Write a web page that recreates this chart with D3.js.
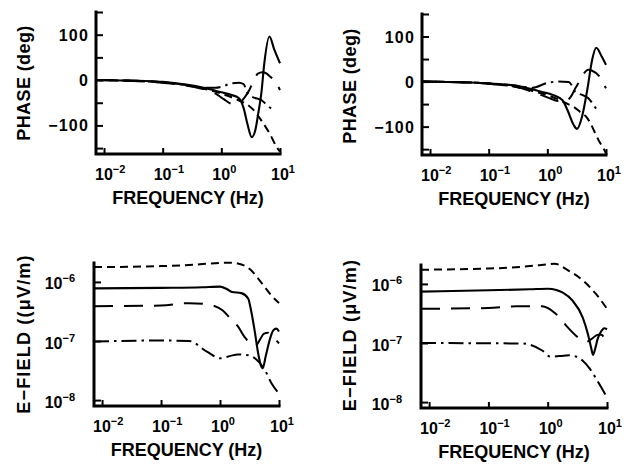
<!DOCTYPE html>
<html>
<head>
<meta charset="utf-8">
<script src="https://cdn.jsdelivr.net/npm/d3@7"></script>
<style>
  body { margin: 0; background: #fff; }
  svg { display: block; }
  text { font-family: "Liberation Sans", Arial, Helvetica, sans-serif; font-weight: bold; fill: #000; }
</style>
</head>
<body>
<svg id="fig" width="635" height="465"></svg>
<script>
// ---- Phase (deg) vs frequency (Hz), left model ----
const phaseLeftSolid = [[0.0073,0],[0.02,-1],[0.05,-2],[0.1,-4],[0.25,-10],[0.5,-17],[1,-27],[1.5,-33],[2,-40],[2.4,-62],[2.8,-98],[3.3,-126],[3.8,-110],[4.3,-70],[4.8,-30],[5.4,37],[6.6,96],[8,67],[10,37]];
const phaseLeftShort = [[0.0073,0],[0.02,-1],[0.05,-3],[0.1,-5],[0.25,-11],[0.5,-19],[1,-30],[1.5,-38],[2,-45],[2.7,-53],[3.6,-67],[4.8,-89],[6.6,-117],[9,-150],[10,-158]];
const phaseLeftLong = [[0.0073,0],[0.02,-1],[0.05,-3],[0.1,-6],[0.25,-12],[0.5,-20],[0.8,-30],[1.1,-42],[1.5,-52],[2,-50],[2.5,-38],[3,-22],[3.5,-3],[4.2,14],[5,17],[5.8,15],[7,6],[8,0],[10,-22]];
const phaseLeftDashDot = [[0.0073,0],[0.02,-1],[0.05,-2],[0.1,-5],[0.25,-11],[0.5,-17],[0.8,-17],[1.1,-13],[1.5,-7],[2,-6],[2.4,-9],[2.8,-30],[3.5,-38],[4.8,-44],[6.6,-60],[7.5,-64]];

// ---- Phase (deg) vs frequency (Hz), right model ----
const phaseRightSolid = [[0.0073,0],[0.02,-1],[0.05,-2],[0.1,-4],[0.35,-11],[0.76,-22],[1.27,-30],[1.8,-41],[2.2,-63],[2.8,-96],[3.2,-105],[3.9,-78],[4.8,-18],[5.8,48],[6.8,75],[8.5,55],[10,37]];
const phaseRightShort = [[0.0073,0],[0.05,-2],[0.1,-5],[0.3,-12],[0.6,-22],[1,-30],[1.5,-39],[2,-47],[2.8,-56],[3.6,-67],[4.8,-81],[5.8,-100],[6.5,-114],[7.9,-136],[9,-147],[10,-160]];
const phaseRightLong = [[0.0073,0],[0.05,-2],[0.1,-5],[0.3,-12],[0.6,-24],[1,-35],[1.5,-43],[2,-44],[2.5,-34],[3,-15],[3.5,0],[4.2,18],[5,26],[5.8,24],[7.9,10],[9.7,-12],[10,-15]];
const phaseRightDashDot = [[0.0073,0],[0.05,-2],[0.1,-4],[0.3,-9],[0.55,-14],[1,-3],[1.5,0],[2.3,-1],[2.6,-8],[3,-23],[4,-30],[5,-37],[6,-50],[7,-63]];

// ---- E-field amplitude (µV/m) vs frequency (Hz), left model ----
const efieldLeftShort = [[0.0073,1.78e-6],[0.1,1.85e-6],[0.5,2.0e-6],[1,2.1e-6],[1.5,2.12e-6],[2,2.05e-6],[3.3,1.6e-6],[4.4,1.15e-6],[5.8,8.1e-7],[7.4,5.9e-7],[10,4.4e-7]];
const efieldLeftSolid = [[0.0073,7.76e-7],[0.1,7.94e-7],[0.5,8.13e-7],[1,8.32e-7],[1.3,7.59e-7],[1.6,6.76e-7],[2.3,6.46e-7],[3.0,5.25e-7],[3.4,3.09e-7],[3.9,1.41e-7],[4.4,6.46e-8],[4.9,3.89e-8],[5.3,3.47e-8],[6.0,5.75e-8],[7.1,1.12e-7],[8,1.51e-7],[9,1.62e-7],[10,1.45e-7]];
const efieldLeftLong = [[0.0073,3.89e-7],[0.1,3.98e-7],[0.3,4.37e-7],[0.6,4.17e-7],[1.1,3.31e-7],[1.5,2.4e-7],[2,1.78e-7],[2.6,1.17e-7],[3.4,8.9e-8],[4,8.3e-8],[4.8,1.07e-7],[5.5,1.32e-7],[6.5,1.38e-7],[8,1.17e-7],[10,9.1e-8]];
const efieldLeftDashDot = [[0.0073,9.8e-8],[0.1,1.02e-7],[0.3,1.0e-7],[0.6,6.6e-8],[1,5.1e-8],[1.5,5.6e-8],[2,5.9e-8],[3,5.75e-8],[4,5.0e-8],[5.8,3.2e-8],[7.5,1.9e-8],[10,1.29e-8]];

// ---- E-field amplitude (µV/m) vs frequency (Hz), right model ----
const efieldRightShort = [[0.0073,1.74e-6],[0.1,1.82e-6],[0.5,2.0e-6],[1,2.15e-6],[1.3,2.2e-6],[2.2,1.7e-6],[3.9,1.15e-6],[6.4,6.9e-7],[10,3.8e-7]];
const efieldRightSolid = [[0.0073,7.4e-7],[0.1,7.8e-7],[0.5,8.1e-7],[1,8.3e-7],[1.4,7.9e-7],[1.8,7.1e-7],[2.6,5.25e-7],[3.9,2.7e-7],[4.8,1.38e-7],[5.4,8.3e-8],[5.8,6.3e-8],[6.3,7.9e-8],[7,1.2e-7],[8,1.58e-7],[9,1.78e-7],[10,1.7e-7]];
const efieldRightLong = [[0.0073,3.8e-7],[0.1,3.9e-7],[0.3,4.17e-7],[0.8,4.17e-7],[1.35,3.16e-7],[2.2,1.82e-7],[3.3,1.23e-7],[4.5,1.05e-7],[5.5,1.17e-7],[7,1.38e-7],[8,1.38e-7],[10,9.1e-8]];
const efieldRightDashDot = [[0.0073,1.0e-7],[0.37,9.8e-8],[0.82,7.4e-8],[1.1,5.9e-8],[1.6,6.0e-8],[2.3,6.2e-8],[3,5.9e-8],[3.9,5.0e-8],[5,3.8e-8],[6.4,2.6e-8],[8,1.78e-8],[10,1.2e-8]];

// ---- Axis ticks and labels ----
const freqDecades = [-2, -1, 0, 1];
const phaseTicks = [-150, -100, -50, 0, 50, 100, 150];
const phaseLabels = [100, 0, -100];
const efieldDecades = [-8, -7, -6];
const freqTitle = "FREQUENCY (Hz)";
const phaseTitle = "PHASE (deg)";
const efieldTitleLeft = "E\u2212FIELD ((\u03BCV/m)";
const efieldTitleRight = "E\u2212FIELD (\u03BCV/m)";

// line styles for the four model curves
const styles = {
  solid:   { dash: null,          width: 2.1 },
  short:   { dash: "8,5",         width: 2.0 },
  long:    { dash: "19,11",       width: 2.0 },
  dashdot: { dash: "15,5,2.5,5",  width: 2.0 }
};

const panels = [
  { kind: "phase", x0: 96,  x1: 280, y0: 12,  y1: 154, title: phaseTitle, titleX: 30, titleY: 83,
    series: [["short", phaseLeftShort], ["long", phaseLeftLong], ["dashdot", phaseLeftDashDot], ["solid", phaseLeftSolid]] },
  { kind: "phase", x0: 422, x1: 606, y0: 14,  y1: 155, title: phaseTitle, titleX: 356, titleY: 86,
    series: [["short", phaseRightShort], ["long", phaseRightLong], ["dashdot", phaseRightDashDot], ["solid", phaseRightSolid]] },
  { kind: "efield", x0: 94, x1: 279, y0: 263, y1: 406, title: efieldTitleLeft, titleX: 30, titleY: 334,
    series: [["short", efieldLeftShort], ["long", efieldLeftLong], ["dashdot", efieldLeftDashDot], ["solid", efieldLeftSolid]] },
  { kind: "efield", x0: 421, x1: 607, y0: 265, y1: 408, title: efieldTitleRight, titleX: 356, titleY: 335,
    series: [["short", efieldRightShort], ["long", efieldRightLong], ["dashdot", efieldRightDashDot], ["solid", efieldRightSolid]] }
];

const svg = d3.select("#fig");

panels.forEach(p => {
  const g = svg.append("g");
  const x = d3.scaleLog().domain([0.0073, 10]).range([p.x0, p.x1]);
  const y = p.kind === "phase"
    ? d3.scaleLinear().domain([-163, 150]).range([p.y1, p.y0])
    : d3.scaleLog().domain([Math.pow(10, -8.1), Math.pow(10, -5.68)]).range([p.y1, p.y0]);

  // curves
  const line = d3.line()
    .x(d => x(d[0]))
    .y(d => y(d[1]))
    .curve(d3.curveMonotoneX);

  p.series.forEach(([style, data]) => {
    const s = styles[style];
    g.append("path")
      .datum(data)
      .attr("d", line)
      .attr("fill", "none")
      .attr("stroke", "#000")
      .attr("stroke-width", s.width)
      .attr("stroke-dasharray", s.dash)
      .attr("stroke-linejoin", "round");
  });

  // inward ticks
  const xAxis = d3.axisBottom(x)
    .tickValues(freqDecades.map(e => Math.pow(10, e)))
    .tickSize(-6).tickFormat("");
  const gx = g.append("g").attr("transform", `translate(0,${p.y1})`).call(xAxis);
  gx.select(".domain").remove();
  gx.selectAll(".tick line").attr("stroke", "#000").attr("stroke-width", 2);

  const yTickValues = p.kind === "phase" ? phaseTicks : efieldDecades.map(e => Math.pow(10, e));
  const yAxis = d3.axisLeft(y).tickValues(yTickValues).tickSize(-7).tickFormat("");
  const gy = g.append("g").attr("transform", `translate(${p.x0},0)`).call(yAxis);
  gy.select(".domain").remove();
  gy.selectAll(".tick line").attr("stroke", "#000").attr("stroke-width", 2);

  // heavy axis frame (left and bottom)
  g.append("path")
    .attr("d", `M${p.x0},${p.y0}V${p.y1}H${p.x1}`)
    .attr("fill", "none")
    .attr("stroke", "#000")
    .attr("stroke-width", 3)
    .attr("stroke-linecap", "square");

  // frequency tick labels: "10" centred on the tick with a raised exponent
  freqDecades.forEach(e => {
    const t = g.append("text")
      .attr("x", x(Math.pow(10, e)) - 9)
      .attr("y", p.y1 + 26)
      .attr("font-size", 16);
    t.append("tspan").text("10");
    t.append("tspan").attr("dy", -7).attr("font-size", 11).text(e < 0 ? "\u2212" + (-e) : String(e));
  });

  // y tick labels
  if (p.kind === "phase") {
    phaseLabels.forEach(v => {
      g.append("text")
        .attr("x", p.x0 - 7)
        .attr("y", y(v) + 6)
        .attr("text-anchor", "end")
        .attr("font-size", 16)
        .attr("letter-spacing", 1.2)
        .text(v < 0 ? "\u2212" + (-v) : String(v));
    });
  } else {
    efieldDecades.forEach(e => {
      const t = g.append("text")
        .attr("x", p.x0 - 19)
        .attr("y", y(Math.pow(10, e)) + 7.5)
        .attr("text-anchor", "end")
        .attr("font-size", 16);
      t.append("tspan").text("10");
      t.append("tspan").attr("dy", -7).attr("font-size", 11).text("\u2212" + (-e));
    });
  }

  // axis titles
  g.append("text")
    .attr("x", (p.x0 + p.x1) / 2)
    .attr("y", p.y1 + 50)
    .attr("text-anchor", "middle")
    .attr("font-size", 18)
    .text(freqTitle);

  g.append("text")
    .attr("transform", `translate(${p.titleX},${p.titleY}) rotate(-90)`)
    .attr("text-anchor", "middle")
    .attr("font-size", 18)
    .attr("letter-spacing", p.kind === "phase" ? 0.4 : 1.2)
    .text(p.title);
});
</script>
</body>
</html>
